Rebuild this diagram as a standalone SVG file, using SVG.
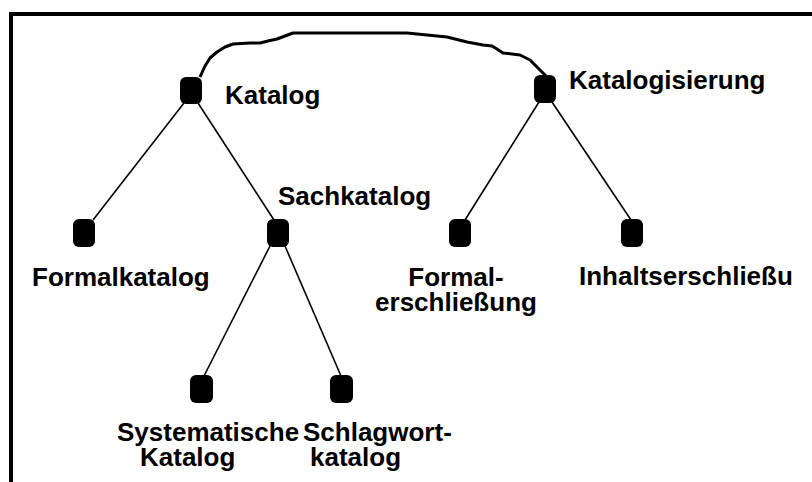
<svg xmlns="http://www.w3.org/2000/svg" width="812" height="482" viewBox="0 0 812 482">
  <style>
    .frame { fill: none; stroke: #000; stroke-width: 4; }
    .edge { fill: none; stroke: #000; stroke-width: 1.6; }
    .arc { fill: none; stroke: #000; stroke-width: 3; stroke-linejoin: round; }
    .node { fill: #000; }
    .label { font-family: "Liberation Sans", Arial, sans-serif; font-weight: bold; font-size: 26px; fill: #000; }
  </style>
  <rect width="812" height="482" fill="#fff"/>
  <!-- open frame: top and left border only -->
  <path class="frame" d="M11,482 L11,14 L812,14"/>

  <g id="connectors">
    <polyline class="arc" points="200,77 205,66 210,58 217,52 225,47 233,44 250,43 260,43 268,41 277,39 285,36 293,33 407,33 427,35 447,37 467,42 483,45 492,46 497,49 503,53 520,55 530,60 535,65 540,70 547,77"/>
    <line class="edge" x1="184" y1="103" x2="93" y2="220"/>
    <line class="edge" x1="198" y1="103" x2="274" y2="220"/>
    <line class="edge" x1="270" y1="246" x2="204" y2="376"/>
    <line class="edge" x1="285" y1="246" x2="341" y2="376"/>
    <line class="edge" x1="539" y1="102" x2="465" y2="220"/>
    <line class="edge" x1="552" y1="102" x2="631" y2="220"/>
  </g>

  <g id="katalog">
    <rect class="node" x="180" y="77" width="22" height="27" rx="6"/>
    <text class="label" x="225" y="104">Katalog</text>
  </g>
  <g id="katalogisierung">
    <rect class="node" x="534" y="75" width="22" height="28" rx="6"/>
    <text class="label" x="569" y="89">Katalogisierung</text>
  </g>
  <g id="formalkatalog">
    <rect class="node" x="73" y="219" width="22" height="28" rx="6"/>
    <text class="label" x="32" y="286">Formalkatalog</text>
  </g>
  <g id="sachkatalog">
    <rect class="node" x="267" y="219" width="22" height="28" rx="6"/>
    <text class="label" x="278" y="205">Sachkatalog</text>
  </g>
  <g id="formalerschliessung">
    <rect class="node" x="449" y="219" width="22" height="28" rx="6"/>
    <text class="label" x="456" y="286" text-anchor="middle">Formal-</text>
    <text class="label" x="456" y="311" text-anchor="middle">erschließung</text>
  </g>
  <g id="inhaltserschliessung">
    <rect class="node" x="621" y="219" width="22" height="28" rx="6"/>
    <text class="label" x="579" y="285">Inhaltserschließu</text>
  </g>
  <g id="systematischer-katalog">
    <rect class="node" x="190" y="375" width="23" height="28" rx="6"/>
    <text class="label" x="117" y="441">Systematische</text>
    <text class="label" x="140" y="466">Katalog</text>
  </g>
  <g id="schlagwortkatalog">
    <rect class="node" x="330" y="375" width="23" height="28" rx="6"/>
    <text class="label" x="303" y="441">Schlagwort-</text>
    <text class="label" x="310" y="466">katalog</text>
  </g>
</svg>
